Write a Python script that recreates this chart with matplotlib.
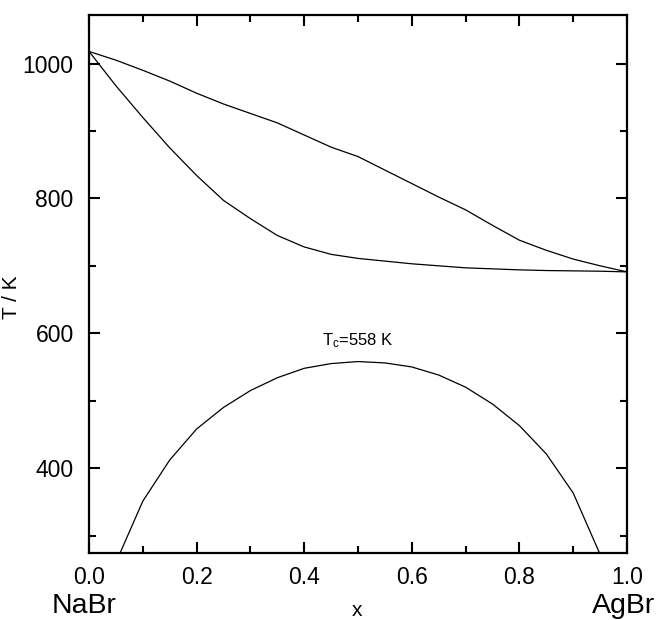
import numpy as np
import matplotlib.pyplot as plt
from matplotlib.ticker import MultipleLocator

plt.rcParams['font.family'] = ['Liberation Sans', 'DejaVu Sans']
plt.rcParams['mathtext.fontset'] = 'custom'
plt.rcParams['mathtext.rm'] = 'Liberation Sans'
plt.rcParams['mathtext.it'] = 'Liberation Sans:italic'

# mole fraction of AgBr
x = [0.0, 0.05, 0.10, 0.15, 0.20, 0.25, 0.30, 0.35, 0.40, 0.45, 0.50,
     0.55, 0.60, 0.65, 0.70, 0.75, 0.80, 0.85, 0.90, 0.95, 1.0]

# liquidus and solidus temperatures (K)
liquidus = [1018, 1005, 990, 974, 956, 940, 926, 912, 894, 876, 862,
            842, 822, 802, 783, 760, 738, 723, 710, 700, 691]
solidus = [1018, 967, 920, 875, 834, 797, 770, 745, 728, 717, 711,
           707, 703, 700, 697, 695.5, 694, 693, 692.5, 692, 691]

# solid-state miscibility gap
x_gap = [0.05, 0.10, 0.15, 0.20, 0.25, 0.30, 0.35, 0.40, 0.45, 0.50,
         0.55, 0.60, 0.65, 0.70, 0.75, 0.80, 0.85, 0.90, 0.95]
t_gap = [260, 351, 412, 458, 490, 515, 534, 548, 555, 558,
         556, 550, 538, 520, 495, 463, 421, 363, 272]
t_crit = 558

fig = plt.figure(figsize=(6.58, 6.2), dpi=100)
ax = fig.add_axes([0.1353, 0.108, 0.8176, 0.8678])

ax.plot(x, liquidus, color='black', lw=0.9)
ax.plot(x, solidus, color='black', lw=0.9)
ax.plot(x_gap, t_gap, color='black', lw=0.9)

ax.text(0.5, t_crit + 24, r'T$_\mathrm{c}$=' + f'{t_crit} K', ha='center',
        va='baseline', fontsize=12)

ax.set_xlim(0, 1)
ax.set_ylim(274, 1072)
ax.xaxis.set_major_locator(MultipleLocator(0.2))
ax.xaxis.set_minor_locator(MultipleLocator(0.1))
ax.yaxis.set_major_locator(MultipleLocator(200))
ax.yaxis.set_minor_locator(MultipleLocator(100))
ax.xaxis.set_major_formatter(plt.FormatStrFormatter('%.1f'))

ax.tick_params(which='both', direction='in', top=True, right=True,
               width=1.5, labelsize=16.5)
ax.tick_params(axis='y', pad=11)
ax.tick_params(axis='x', pad=9)
ax.tick_params(which='major', length=8)
ax.tick_params(which='minor', length=5)
for s in ax.spines.values():
    s.set_linewidth(1.6)

ax.set_ylabel('T / K', fontsize=15)
ax.yaxis.set_label_coords(-0.126, 0.476)
fig.text(0.5426, 0.0065, 'x', ha='center', va='baseline', fontsize=15)
fig.text(0.128, 0.0113, 'NaBr', ha='center', va='baseline', fontsize=20.5)
fig.text(0.948, 0.0113, 'AgBr', ha='center', va='baseline', fontsize=20.5)

fig.savefig('out.png', dpi=100)
